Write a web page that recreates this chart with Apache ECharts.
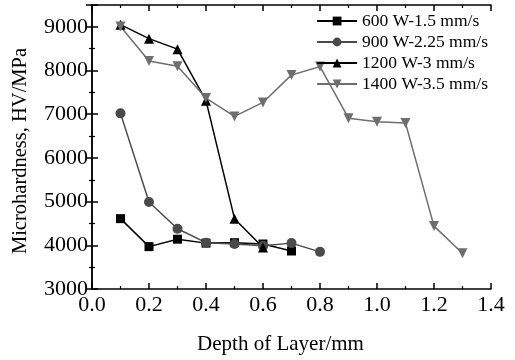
<!DOCTYPE html>
<html>
<head>
<meta charset="utf-8">
<script src="https://cdn.jsdelivr.net/npm/echarts@6/dist/echarts.min.js"></script>
<style>
  html, body { margin: 0; padding: 0; background: #fff; }
  #chart { width: 515px; height: 360px; }
</style>
</head>
<body>
<div id="chart"></div>
<script>
const depth600 = [0.1, 0.2, 0.3, 0.4, 0.5, 0.6, 0.7];
const hv600 = [4610, 3970, 4140, 4050, 4060, 4030, 3870];

const depth900 = [0.1, 0.2, 0.3, 0.4, 0.5, 0.6, 0.7, 0.8];
const hv900 = [7020, 4990, 4380, 4060, 4030, 3990, 4050, 3850];

const depth1200 = [0.1, 0.2, 0.3, 0.4, 0.5, 0.6];
const hv1200 = [9050, 8730, 8490, 7310, 4610, 3950];

const depth1400 = [0.1, 0.2, 0.3, 0.4, 0.5, 0.6, 0.7, 0.8, 0.9, 1.0, 1.1, 1.2, 1.3];
const hv1400 = [9010, 8220, 8100, 7370, 6950, 7270, 7900, 8090, 6910, 6830, 6800, 4440, 3820];

const seriesNames = ['600 W-1.5 mm/s', '900 W-2.25 mm/s', '1200 W-3 mm/s', '1400 W-3.5 mm/s'];

const font = "'Liberation Serif', 'Times New Roman', serif";

const pair = (xs, ys) => xs.map((x, i) => [x, ys[i]]);

function makeSeries(name, data, color, symbol, size, rotate) {
  return {
    name,
    type: 'line',
    data,
    symbol,
    symbolSize: size,
    symbolRotate: rotate || 0,
    lineStyle: { color, width: 1.5 },
    itemStyle: { color },
    animation: false,
  };
}

const chart = echarts.init(document.getElementById('chart'));

const tickStyle = { inside: true, length: 6, lineStyle: { color: '#000', width: 1.5 } };
const minorStyle = { show: true, splitNumber: 2, length: 3, lineStyle: { color: '#000', width: 1.2 } };
const lineStyle = { lineStyle: { color: '#000', width: 1.5 } };

chart.setOption({
  backgroundColor: '#fff',
  grid: { left: 92, right: 24, top: 5, bottom: 70 },
  legend: {
    data: seriesNames,
    right: 22,
    top: 7,
    orient: 'vertical',
    itemWidth: 40,
    itemHeight: 11,
    itemGap: 3,
    textStyle: { fontFamily: font, fontSize: 17.5, color: '#000' },
  },
  xAxis: [{
    type: 'value',
    min: 0,
    max: 1.4,
    interval: 0.2,
    name: 'Depth of Layer/mm',
    nameLocation: 'middle',
    nameGap: 45,
    nameTextStyle: { fontFamily: font, fontSize: 21, color: '#000', padding: [0, 22, 0, 0] },
    axisLine: lineStyle,
    axisTick: tickStyle,
    minorTick: minorStyle,
    splitLine: { show: false },
    axisLabel: {
      fontFamily: font, fontSize: 22, color: '#000', margin: 5,
      formatter: v => v.toFixed(1),
    },
  }, {
    type: 'value',
    position: 'top',
    min: 0,
    max: 1.4,
    interval: 0.2,
    axisLine: lineStyle,
    axisTick: tickStyle,
    minorTick: minorStyle,
    splitLine: { show: false },
    axisLabel: { show: false },
  }],
  yAxis: [{
    type: 'value',
    min: 3000,
    max: 9500,
    interval: 1000,
    name: 'Microhardness, HV/MPa',
    nameLocation: 'middle',
    nameGap: 61,
    nameTextStyle: { fontFamily: font, fontSize: 20.5, color: '#000', padding: [0, 8, 0, 0] },
    axisLine: lineStyle,
    axisTick: tickStyle,
    minorTick: minorStyle,
    splitLine: { show: false },
    axisLabel: {
      fontFamily: font, fontSize: 22, color: '#000', margin: 4,
      formatter: v => (v % 1000 === 0 ? String(v) : ''),
    },
  }, {
    type: 'value',
    position: 'right',
    min: 3000,
    max: 9500,
    interval: 1000,
    axisLine: lineStyle,
    axisTick: tickStyle,
    minorTick: minorStyle,
    splitLine: { show: false },
    axisLabel: { show: false },
  }],
  series: [
    makeSeries(seriesNames[0], pair(depth600, hv600), '#000000', 'rect', 9),
    makeSeries(seriesNames[1], pair(depth900, hv900), '#4a4a4a', 'circle', 10),
    makeSeries(seriesNames[2], pair(depth1200, hv1200), '#000000', 'triangle', 10),
    makeSeries(seriesNames[3], pair(depth1400, hv1400), '#6e6e6e', 'triangle', 10, 180),
  ],
});
</script>
</body>
</html>
